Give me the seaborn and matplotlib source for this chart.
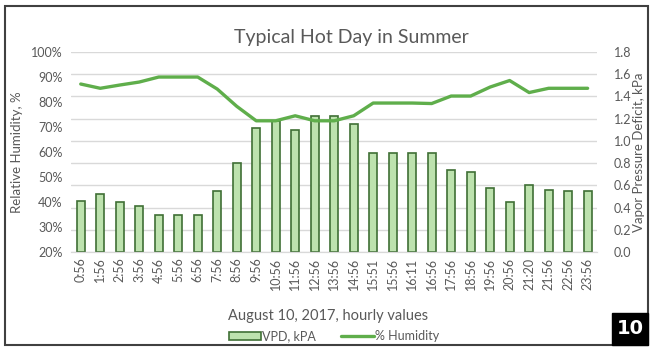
import matplotlib
matplotlib.use("Agg")
import matplotlib.pyplot as plt
import seaborn as sns
import pandas as pd
from matplotlib.patches import Rectangle

# data
times = ['0:56', '1:56', '2:56', '3:56', '4:56', '5:56', '6:56', '7:56', '8:56', '9:56',
         '10:56', '11:56', '12:56', '13:56', '14:56', '15:51', '15:56', '16:11', '16:56',
         '17:56', '18:56', '19:56', '20:56', '21:20', '21:56', '22:56', '23:56']
vpd = [0.46, 0.52, 0.45, 0.41, 0.33, 0.33, 0.33, 0.55, 0.80, 1.12,
       1.18, 1.10, 1.22, 1.22, 1.15, 0.89, 0.89, 0.89, 0.89,
       0.74, 0.72, 0.58, 0.45, 0.60, 0.56, 0.55, 0.55]
humidity = [87.2, 85.5, 86.8, 88.0, 90.0, 90.0, 90.0, 85.2, 78.3, 72.5,
            72.5, 74.5, 72.5, 72.5, 74.5, 79.6, 79.6, 79.6, 79.4,
            82.4, 82.4, 86.0, 88.6, 83.8, 85.5, 85.5, 85.5]
pct_ticks = [20, 30, 40, 50, 60, 70, 80, 90, 100]
vpd_ticks = [0.0, 0.2, 0.4, 0.6, 0.8, 1.0, 1.2, 1.4, 1.6, 1.8]

df = pd.DataFrame({'time': times, 'vpd': vpd, 'hum': humidity})

sns.set_style('white')
plt.rcParams['font.family'] = ['Lato', 'DejaVu Sans']
gray = '#595959'
bar_fill = '#bde2ae'
bar_edge = '#3f6f35'
line_col = '#5fae4b'

fig = plt.figure(figsize=(6.55, 3.54), dpi=100)
ax = fig.add_axes([0.1084, 0.288, 0.8036, 0.565])
ax2 = ax.twinx()

# bars on the right axis (VPD)
sns.barplot(data=df, x='time', y='vpd', ax=ax2, color=bar_fill, width=0.4,
            edgecolor=bar_edge, linewidth=1.2, saturation=1, label='VPD, kPA')
# humidity line on the left axis, drawn on top
sns.lineplot(data=df, x='time', y='hum', ax=ax, sort=False, color=line_col,
             linewidth=2.4, label='% Humidity')
ax.set_zorder(ax2.get_zorder() + 1)
ax.patch.set_visible(False)

ax.set_xlim(-0.5, len(times) - 0.5)
ax.set_ylim(20, 100)
ax.set_yticks(pct_ticks)
ax.set_yticklabels([f'{t}%' for t in pct_ticks])
ax2.set_ylim(0, 1.8)
ax2.set_yticks(vpd_ticks)
ax2.set_yticklabels([f'{t:.1f}' for t in vpd_ticks])

# gridlines behind the bars
ax2.grid(axis='y', color='#d9d9d9', linewidth=1)
ax2.set_axisbelow(True)

for a in (ax, ax2):
    for s in ['top', 'left', 'right']:
        a.spines[s].set_visible(False)
    a.spines['bottom'].set_color('#d9d9d9')
    a.tick_params(axis='y', length=0, labelsize=9, labelcolor=gray)

ax.set_xticks(range(len(times)))
ax.set_xticklabels(times, rotation=90)
ax.set_xticks([i - 0.5 for i in range(len(times) + 1)], minor=True)
ax.tick_params(axis='x', which='major', length=0, labelsize=9, labelcolor=gray, pad=4)
ax.tick_params(axis='x', which='minor', length=4, color='#d9d9d9', direction='out')
ax.tick_params(axis='y', pad=6)
ax2.tick_params(axis='y', pad=12)

ax.set_ylabel('Relative Humidity, %', fontsize=9.5, color=gray, labelpad=6)
ax2.set_ylabel('Vapor Pressure Deficit, kPa', fontsize=9.5, color=gray, labelpad=1)
ax.set_xlabel('August 10, 2017, hourly values', fontsize=10.5, color=gray)
ax.xaxis.set_label_coords((328 - 71) / 526.5, -(309 - 252) / 200, transform=ax.transAxes)
fig.text(351 / 655, 1 - 38 / 354, 'Typical Hot Day in Summer', fontsize=14,
         color=gray, ha='center', va='center')

# combined legend below the axis
ax.get_legend().remove() if ax.get_legend() else None
ax2.get_legend().remove() if ax2.get_legend() else None
h1, l1 = ax2.get_legend_handles_labels()
h2, l2 = ax.get_legend_handles_labels()
fig.legend(h1 + h2, l1 + l2, loc='center', bbox_to_anchor=(0.51, 0.05), ncol=2,
           frameon=False, fontsize=9, labelcolor=gray, handlelength=2.6,
           handletextpad=0.1, columnspacing=2.0)

# outer frame and the "10" badge
fig.patches.append(Rectangle((5 / 655, 1 - 345 / 354), 643 / 655, 339 / 354,
                             transform=fig.transFigure, fill=False,
                             edgecolor='#404040', linewidth=1.5))
fig.patches.append(Rectangle((612 / 655, 1 - 345 / 354), 36 / 655, 32 / 354,
                             transform=fig.transFigure, facecolor='black',
                             edgecolor='black'))
fig.text(630 / 655, 1 - 329 / 354, '10', color='white', fontsize=14,
         fontweight='bold', ha='center', va='center', family='DejaVu Sans')

fig.savefig('out.png', dpi=100)
